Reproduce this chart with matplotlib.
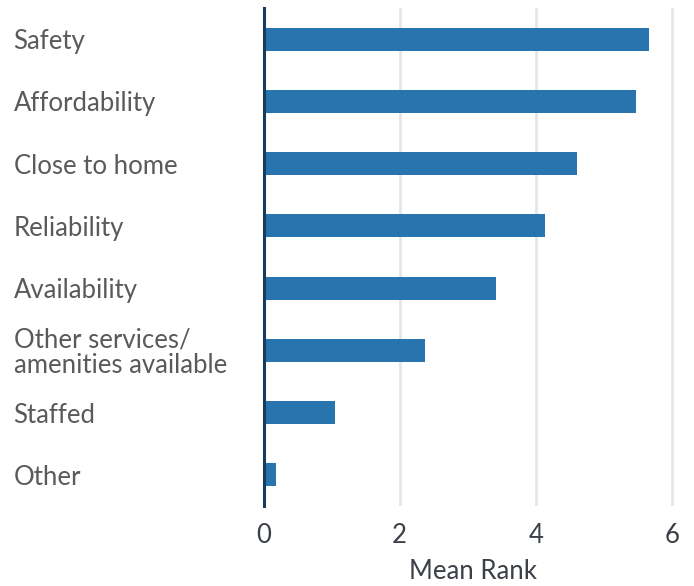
import matplotlib.pyplot as plt
import numpy as np

categories = ["Safety", "Affordability", "Close to home", "Reliability", "Availability",
              "Other services/\namenities available", "Staffed", "Other"]
mean_rank = [5.66, 5.47, 4.60, 4.13, 3.41, 2.37, 1.05, 0.19]
x_ticks = [0, 2, 4, 6]

plt.rcParams['font.family'] = ['Lato', 'DejaVu Sans']

fig = plt.figure(figsize=(6.94, 5.86), dpi=100)
ax = fig.add_axes([0.3797, 0.1365, 0.603, 0.8498])

y = np.arange(len(categories))
ax.barh(y, mean_rank, height=0.37, color='#2874ae', zorder=3)

ax.set_ylim(len(categories) - 0.5, -0.5)
ax.set_xlim(0, 6.15)

ax.set_xticks(x_ticks)
ax.set_xticklabels([str(t) for t in x_ticks], fontsize=18.5, color='#3b4047')
ax.tick_params(axis='x', length=0, pad=12)

ax.set_yticks(y)
ax.set_yticklabels(categories, fontsize=18.5, color='#5a5a5a', ha='left',
                   linespacing=1.0)
ax.tick_params(axis='y', length=0, pad=180)

ax.grid(axis='x', color='#e6e6ea', linewidth=2, zorder=0)
for s in ['top', 'right', 'bottom']:
    ax.spines[s].set_visible(False)
ax.spines['left'].set_color('#173d5e')
ax.spines['left'].set_linewidth(2.2)
ax.spines['left'].set_zorder(4)

ax.set_xlabel("Mean Rank", fontsize=18.5, color='#3b4047', labelpad=8)

fig.savefig("out.png", dpi=100)
